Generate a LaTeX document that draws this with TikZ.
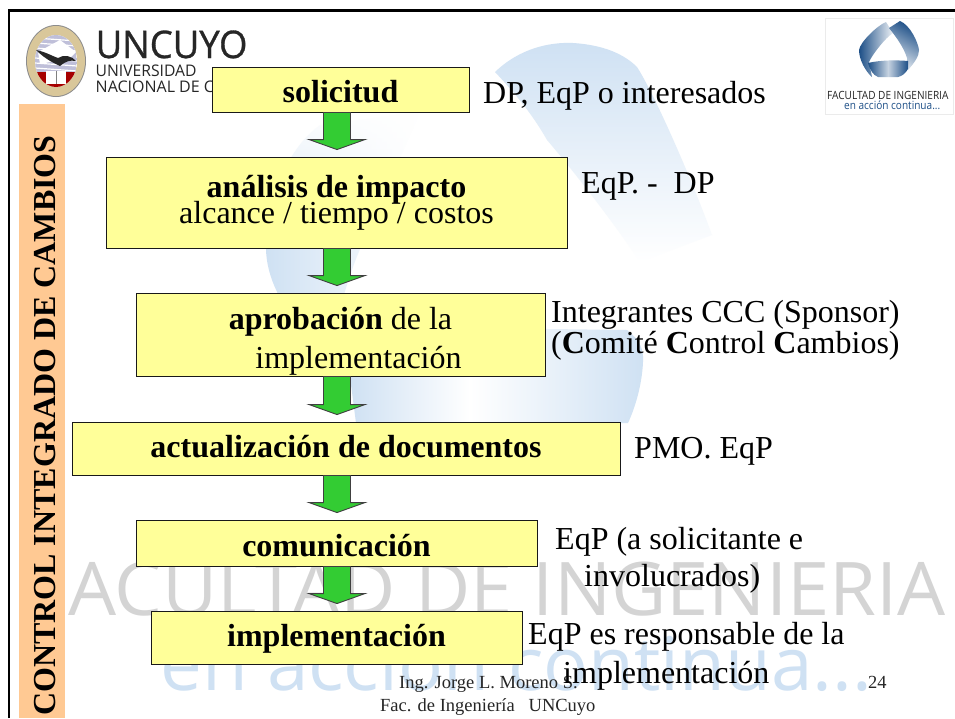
\documentclass[tikz,border=0pt]{standalone}
\usepackage{fontspec}
\setmainfont{Liberation Serif}
\newfontfamily\logosans{Open Sans}
\newfontfamily\logoheavy[FakeBold=0.8]{Open Sans}
\usetikzlibrary{calc,fadings}
\definecolor{boxyellow}{HTML}{FFFF99}
\definecolor{flowgreen}{HTML}{33CC33}
\definecolor{barorange}{HTML}{FFC993}
\definecolor{wmblue}{HTML}{CFE1F3}
\definecolor{wmgray}{HTML}{D4D4D4}
\definecolor{logoblue}{HTML}{1D4F87}
\definecolor{sealtan}{HTML}{D9C79A}
\tikzfading[name=wmtop, top color=transparent!0, bottom color=transparent!100]
\tikzset{
  x=1pt,y=-1pt,
  stepbox/.style={draw=black!90,fill=boxyellow,line width=0.9pt,inner sep=0pt,align=center,font=\fontsize{32}{33}\selectfont},
  sidetext/.style={anchor=base west,inner sep=0pt,font=\fontsize{32}{33}\selectfont},
  foottext/.style={anchor=base west,inner sep=0pt,font=\fontsize{18.5}{20}\selectfont,text=black!85},
  flowarrow/.style={draw=black!75,fill=flowgreen,line width=0.9pt,line join=miter},
  logotext/.style={anchor=base west,inner sep=0pt,text=black!85},
}
% text whose baseline lies #1 pt below the centre of its box
\newcommand\basedrop[2]{\raisebox{-#1pt}[0pt][0pt]{#2}}
\newcommand\flowlink[2]{%
  \path[flowarrow] let \p1=(#1.south -| axis), \p2=(#2.north -| axis) in
   (\x1-13.5pt,\y1) -- (\x1-13.5pt,\y2+17pt) -- (\x1-28pt,\y2+17pt) -- (\x1,\y2+7pt)
   -- (\x1+28pt,\y2+17pt) -- (\x1+13.5pt,\y2+17pt) -- (\x1+13.5pt,\y1) -- cycle;}
\begin{document}
\begin{tikzpicture}
\useasboundingbox (0,0) rectangle (955,718);
\fill[white] (0,0) rectangle (955,718);
% watermark ribbon
\shade[top color=wmblue,bottom color=white]
  (495,72) .. controls (520,48) and (550,42) .. (573,43)
  .. controls (605,45) and (625,55) .. (637,67)
  .. controls (655,95) and (692,180) .. (712,235)
  -- (640,262) .. controls (605,210) and (560,155) .. (547,140)
  .. controls (530,110) and (510,88) .. (495,72) -- cycle;
\shade[left color=wmblue,right color=white]
  (266,250) .. controls (266,205) and (285,150) .. (320,125)
  -- (420,112) -- (362,245) .. controls (350,270) and (335,320) .. (325,377)
  -- (345,377) .. controls (310,340) and (268,300) .. (266,250) -- cycle;
\fill[white,path fading=wmtop] (255,105) rectangle (440,235);
\shade[left color=white,right color=wmblue]
  (470,328) -- (627,330) .. controls (640,340) and (644,350) .. (643,362)
  .. controls (642,385) and (635,408) .. (628,423) -- (470,423) -- cycle;
\shade[left color=wmblue,right color=white]
  (350,377) -- (470,377) -- (470,423) -- (356,423) -- cycle;
% watermark words
\node[anchor=base west,inner sep=0pt,text=wmgray,font=\logosans\fontsize{74}{76}\selectfont,xscale=1.026] (wmfac) at (68,615) {ACULTAD DE INGENIERIA};
\node[anchor=base west,inner sep=0pt,text=wmblue,font=\logosans\fontsize{74}{76}\selectfont,xscale=1.007] (wmacc) at (160,690) {en acción continua...};
% frame
\draw[black,line width=2.4pt] (9,718) -- (9,10.5) -- (955,10.5);
% side bar
\fill[barorange] (19,104) rectangle (65,718);
\node[rotate=90,anchor=base west,inner sep=0pt,font=\bfseries\fontsize{32}{33}\selectfont] (title) at (55.5,716) {CONTROL INTEGRADO DE CAMBIOS};
% university seal
\fill[black!45] (56,61) ellipse (30 and 36);
\fill[sealtan] (56,61) ellipse (29 and 35);
\fill[white] (56,61) ellipse (21 and 26);
\begin{scope}
\clip (56,61) ellipse (21 and 26);
\fill[blue!25!gray!40] (35,35) rectangle (77,72);
\foreach \yy in {38,43,48,58,63,68}{\draw[white,line width=1.2pt] (35,\yy) -- (77,\yy+3);}
\fill[white] (38,52) -- (60,40) -- (76,52) -- (70,58) -- (40,64) -- cycle;
\fill[red!65!black] (35,72) rectangle (77,90);
\fill[white] (46,71) rectangle (66,84);
\draw[black!50,line width=0.5pt] (56,71) -- (56,84);
\end{scope}
\fill[black!85] (36,50) .. controls (46,52) and (52,56) .. (58,58) .. controls (64,54) and (72,56) .. (76,61)
  .. controls (70,60) and (66,61) .. (60,66) .. controls (56,64) and (46,60) .. (36,50) -- cycle;
% university words
\node[logotext,font=\logoheavy\fontsize{38}{40}\selectfont,xscale=0.96] (uncuyo) at (95.5,58) {UNCUYO};
\node[logotext,font=\logosans\fontsize{16}{18}\selectfont,xscale=0.98] (univ) at (95.5,76) {UNIVERSIDAD};
\node[logotext,font=\logosans\fontsize{16}{18}\selectfont] (nacional) at (95.5,92) {NACIONAL DE CUYO};
% faculty logo
\draw[black!8,fill=white,line width=0.8pt] (825,18) rectangle (953,114);
\shade[left color=logoblue,right color=logoblue!8]
  (859,50) .. controls (860,42) and (878,25) .. (886,22) -- (893,33) .. controls (885,38) and (872,55) .. (869,62) -- (872,77) .. controls (866,72) and (859,60) .. (859,50) -- cycle;
\shade[top color=logoblue,bottom color=logoblue!10,shading angle=-30]
  (889,28) -- (900,21) .. controls (910,25) and (918,42) .. (919,50) .. controls (919,56) and (915,62) .. (908,70) -- (907,58) .. controls (904,48) and (897,38) .. (889,28) -- cycle;
\shade[left color=logoblue,right color=logoblue,middle color=logoblue!25]
  (868,63) .. controls (880,60) and (897,60) .. (908,61) -- (908,69) .. controls (905,74) and (902,76) .. (898,77) -- (878,77) .. controls (873,75) and (870,70) .. (868,63) -- cycle;
\node[logotext,font=\logosans\fontsize{11.3}{12}\selectfont,xscale=0.89] (fachead) at (827,99) {FACULTAD DE INGENIERIA};
\node[logotext,text=logoblue,font=\logosans\fontsize{11.3}{12}\selectfont,xscale=0.89] (facsub) at (844,109) {en acción continua...};
% axis of the arrows
\coordinate (axis) at (337,0);
% boxes
\node[stepbox,minimum width=257,minimum height=45] (sol) at (340.5,89.5) {\basedrop{13}{\textbf{solicitud}}};
\node[stepbox,minimum width=461,minimum height=91] (ana) at (336.5,202.5) {\basedrop{-5}{\begin{tabular}[t]{@{}c@{}}\textbf{análisis de impacto}\\[-7.5pt] alcance / tiempo / costos\end{tabular}}};
\node[stepbox,minimum width=409,minimum height=83] (apr) at (340.5,334.5) {\basedrop{-5}{\begin{tabular}[t]{@{}c@{}}\textbf{aprobación} de la\\[6pt] \hspace*{36pt}implementación\end{tabular}}};
\node[stepbox,minimum width=548,minimum height=53] (act) at (346,448.5) {\basedrop{9.2}{\textbf{actualización de documentos}}};
\node[stepbox,minimum width=401,minimum height=46] (com) at (336.5,543) {\basedrop{13}{\textbf{comunicación}}};
\node[stepbox,minimum width=371,minimum height=53] (imp) at (336.5,637.5) {\basedrop{9.2}{\textbf{implementación}}};
% arrows
\flowlink{sol}{ana}
\flowlink{ana}{apr}
\flowlink{apr}{act}
\flowlink{act}{com}
\flowlink{com}{imp}
% side texts
\node[sidetext] (t1) at (483,103) {DP, EqP o interesados};
\node[sidetext] (t2) at (581,193) {EqP. -\ \ DP};
\node[sidetext] (t3) at (551,322) {Integrantes CCC (Sponsor)};
\node[sidetext] (t4) at (551,353) {(\textbf{C}omité \textbf{C}ontrol \textbf{C}ambios)};
\node[sidetext] (t5) at (634,458) {PMO. EqP};
\node[sidetext] (t6) at (555,549) {EqP (a solicitante e};
\node[sidetext] (t7) at (584,586) {involucrados)};
\node[sidetext] (t8) at (528,644) {EqP es responsable de la};
% footer
\node[foottext] (f1) at (399,688) {Ing. Jorge L. Moreno S.};
\node[foottext] (f2) at (380,711) {Fac. de Ingeniería\ \ \ UNCuyo};
\node[foottext] (f3) at (868,688) {24};
\node[sidetext] (t9) at (563,683) {implementación};
\end{tikzpicture}
\end{document}
